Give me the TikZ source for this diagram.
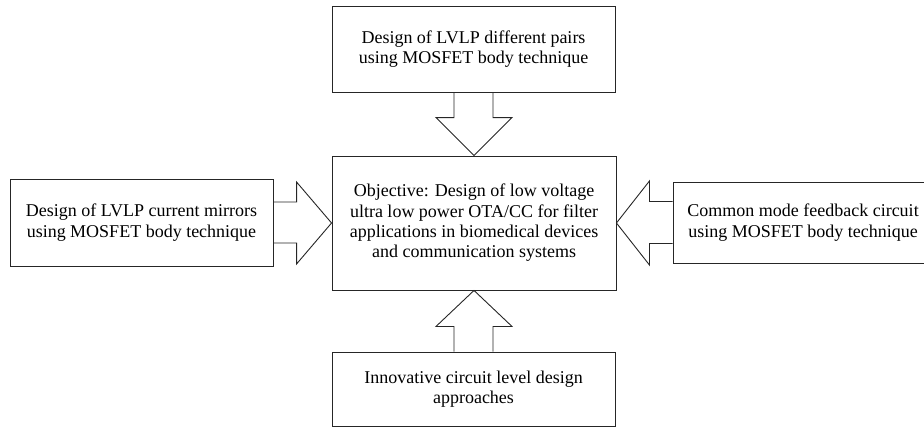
\documentclass[tikz,border=0pt]{standalone}
\usepackage{fontspec}
\setmainfont{Liberation Serif}
\usetikzlibrary{calc}
\begin{document}
\begin{tikzpicture}[x=1pt,y=-1pt,
  box/.style={draw=black!85,line width=0.9pt,rectangle,inner sep=0pt,align=center,
    font=\fontsize{18}{20.3}\selectfont},
  blockarr/.style={draw=black!85,line width=0.9pt,line join=miter}]
\useasboundingbox (0,0) rectangle (924,428);
\node[box,minimum width=283pt,minimum height=86pt] (top) at (473.5,49) {Design of LVLP different pairs\\using MOSFET body technique};
\node[box,minimum width=284pt,minimum height=134pt] (ctr) at (474,223) {Objective: Design of low voltage\\ultra low power OTA/CC for filter\\applications in biomedical devices\\and communication systems};
\node[box,minimum width=263pt,minimum height=87pt] (left) at (141.5,222.5) {Design of LVLP current mirrors\\using MOSFET body technique};
\node[box,minimum width=260pt,minimum height=81pt] (right) at (803,222.5) {Common mode feedback circuit\\using MOSFET body technique};
\node[box,minimum width=283pt,minimum height=74pt] (bot) at (473.5,389) {Innovative circuit level design\\approaches};
% block arrows
\draw[blockarr] ($(top.south)+(-19.5,0)$) |- ($(ctr.north)+(-38,-38)$) -- (ctr.north)
  -- ($(ctr.north)+(38,-38)$) -| ($(top.south)+(19.5,0)$);
\draw[blockarr] ($(bot.north)+(-19.5,0)$) |- ($(ctr.south)+(-38,36)$) -- (ctr.south)
  -- ($(ctr.south)+(38,36)$) -| ($(bot.north)+(19.5,0)$);
\draw[blockarr] ($(left.east)+(0,-20.5)$) -| ($(ctr.west)+(-35,-41)$) -- (ctr.west)
  -- ($(ctr.west)+(-35,41)$) |- ($(left.east)+(0,20.5)$);
\draw[blockarr] ($(right.west)+(0,-21)$) -| ($(ctr.east)+(33,-42)$) -- (ctr.east)
  -- ($(ctr.east)+(33,42)$) |- ($(right.west)+(0,21)$);
\end{tikzpicture}
\end{document}
